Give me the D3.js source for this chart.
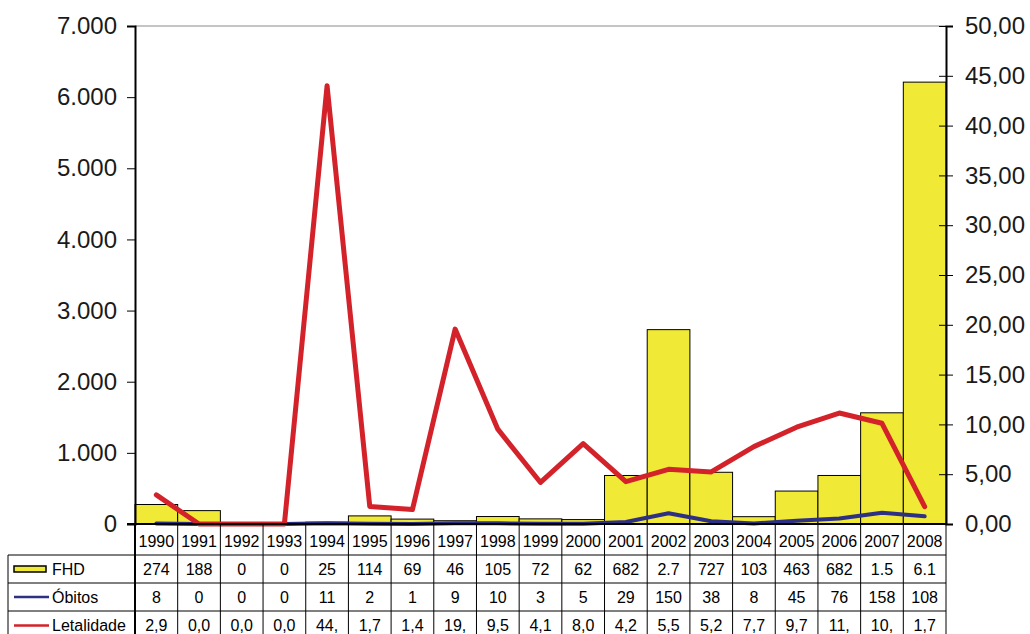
<!DOCTYPE html>
<meta charset="utf-8">
<style>
  body { margin: 0; background: #fff; }
  svg { font-family: "Liberation Sans", Arial, sans-serif; }
</style>
<svg width="1030" height="634"></svg>
<script src="https://d3js.org/d3.v7.min.js"></script>
<script>

// data
var years = ["1990","1991","1992","1993","1994","1995","1996","1997","1998","1999",
             "2000","2001","2002","2003","2004","2005","2006","2007","2008"];
var fhd = [274, 188, 0, 0, 25, 114, 69, 46, 105, 72, 62, 682, 2732, 727, 103, 463, 682, 1563, 6211];
var obitos = [8, 0, 0, 0, 11, 2, 1, 9, 10, 3, 5, 29, 150, 38, 8, 45, 76, 158, 108];
var letalidade = [2.92, 0, 0, 0, 44.0, 1.75, 1.45, 19.57, 9.52, 4.17, 8.06, 4.25, 5.49, 5.23, 7.77, 9.72, 11.14, 10.11, 1.74];

// text as printed in the table (cut off in the original)
var fhdText = ["274","188","0","0","25","114","69","46","105","72","62","682","2.7","727","103","463","682","1.5","6.1"];
var obitosText = ["8","0","0","0","11","2","1","9","10","3","5","29","150","38","8","45","76","158","108"];
var letalText = ["2,9","0,0","0,0","0,0","44,","1,7","1,4","19,","9,5","4,1","8,0","4,2","5,5","5,2","7,7","9,7","11,","10,","1,7"];

var leftTicks = [0, 1000, 2000, 3000, 4000, 5000, 6000, 7000];
var rightTicks = [0, 5, 10, 15, 20, 25, 30, 35, 40, 45, 50];

var yellow = "#f0e936", red = "#d3222a", navy = "#2e3084";

var pLeft = 135, pRight = 946, pTop = 26, pBottom = 524;

var svg = d3.select("svg");

var x = d3.scaleBand().domain(years).range([pLeft, pRight]).padding(0);
var y = d3.scaleLinear().domain([0, 7000]).range([pBottom, pTop]);
var y2 = d3.scaleLinear().domain([0, 50]).range([pBottom, pTop]);

// top border of plot area
svg.append("line")
    .attr("x1", pLeft).attr("x2", pRight)
    .attr("y1", pTop).attr("y2", pTop)
    .attr("stroke", "#8a8a8a").attr("stroke-width", 1);

// bars
svg.append("g")
  .selectAll("rect")
  .data(fhd)
  .enter().append("rect")
    .attr("x", function(d, i) { return x(years[i]); })
    .attr("y", function(d) { return y(d); })
    .attr("width", x.bandwidth())
    .attr("height", function(d) { return pBottom - y(d); })
    .attr("fill", yellow)
    .attr("stroke", "#000")
    .attr("stroke-width", 1);

// óbitos line (left axis)
var lineObitos = d3.line()
    .x(function(d, i) { return x(years[i]) + x.bandwidth() / 2; })
    .y(function(d) { return y(d); });

svg.append("path")
    .datum(obitos)
    .attr("d", lineObitos)
    .attr("fill", "none")
    .attr("stroke", navy)
    .attr("stroke-width", 4)
    .attr("stroke-linejoin", "round")
    .attr("stroke-linecap", "round");

// left axis
var yAxis = svg.append("g")
    .attr("transform", "translate(" + pLeft + ",0)")
    .call(d3.axisLeft(y).tickValues(leftTicks).tickSize(8).tickPadding(10)
      .tickFormat(function(d) { return d3.format(",")(d).replace(/,/g, "."); }));
yAxis.select(".domain").attr("stroke", "#000").attr("stroke-width", 2);
yAxis.selectAll(".tick line").attr("stroke", "#000");
yAxis.selectAll("text").attr("font-size", 24).attr("fill", "#1a1a1a")
    .attr("font-family", "Liberation Sans, Arial, sans-serif");

// right axis
var yAxis2 = svg.append("g")
    .attr("transform", "translate(" + pRight + ",0)")
    .call(d3.axisRight(y2).tickValues(rightTicks).tickSize(7).tickPadding(12)
      .tickFormat(function(d) { return d3.format(".2f")(d).replace(".", ","); }));
yAxis2.select(".domain").attr("stroke", "#000").attr("stroke-width", 2);
yAxis2.selectAll(".tick line").attr("x1", -7).attr("stroke", "#000");
yAxis2.selectAll("text").attr("font-size", 24).attr("fill", "#1a1a1a")
    .attr("font-family", "Liberation Sans, Arial, sans-serif");

// letalidade line (right axis)
var lineLetal = d3.line()
    .x(function(d, i) { return x(years[i]) + x.bandwidth() / 2; })
    .y(function(d) { return y2(d); });

svg.append("path")
    .datum(letalidade)
    .attr("d", lineLetal)
    .attr("fill", "none")
    .attr("stroke", red)
    .attr("stroke-width", 5)
    .attr("stroke-linejoin", "round")
    .attr("stroke-linecap", "round");

// category axis line
svg.append("line")
    .attr("x1", pLeft - 8).attr("x2", pRight)
    .attr("y1", pBottom).attr("y2", pBottom)
    .attr("stroke", "#000").attr("stroke-width", 2);

// data table
var rowTop = [pBottom, 555, 583, 611, 640];
var tableLeft = 8;
var table = svg.append("g").attr("font-size", 16).attr("fill", "#000");

// horizontal lines
rowTop.slice(1).forEach(function(ty) {
  table.append("line")
      .attr("x1", tableLeft).attr("x2", pRight)
      .attr("y1", ty).attr("y2", ty)
      .attr("stroke", "#000").attr("stroke-width", 1);
});
// vertical lines
table.append("line")
    .attr("x1", tableLeft).attr("x2", tableLeft)
    .attr("y1", rowTop[1]).attr("y2", 640)
    .attr("stroke", "#000");
years.forEach(function(yr) {
  table.append("line")
      .attr("x1", x(yr)).attr("x2", x(yr))
      .attr("y1", pBottom).attr("y2", 640)
      .attr("stroke", "#000").attr("stroke-width", x(yr) === pLeft ? 2 : 1);
});
table.append("line")
    .attr("x1", pRight).attr("x2", pRight)
    .attr("y1", pBottom).attr("y2", 640)
    .attr("stroke", "#000");

var rows = [years, fhdText, obitosText, letalText];
rows.forEach(function(texts, r) {
  var cy = (rowTop[r] + rowTop[r + 1]) / 2;
  table.append("g")
    .selectAll("text")
    .data(texts)
    .enter().append("text")
      .attr("x", function(d, i) { return x(years[i]) + x.bandwidth() / 2; })
      .attr("y", cy + (r === 0 ? 2 : 0))
      .attr("dy", "0.35em")
      .attr("text-anchor", "middle")
      .text(function(d) { return d; });
});

// row legends
var legendRows = [
  {name: "FHD", type: "bar"},
  {name: "Óbitos", type: "line", color: navy},
  {name: "Letalidade", type: "line", color: red}
];
legendRows.forEach(function(l, k) {
  var cy = (rowTop[k + 1] + rowTop[k + 2]) / 2;
  if (l.type === "bar") {
    table.append("rect")
        .attr("x", 14).attr("y", cy - 3)
        .attr("width", 32).attr("height", 6)
        .attr("fill", yellow).attr("stroke", "#000").attr("stroke-width", 1.5);
  } else {
    table.append("line")
        .attr("x1", 14).attr("x2", 49)
        .attr("y1", cy).attr("y2", cy)
        .attr("stroke", l.color).attr("stroke-width", 2.5);
  }
  table.append("text")
      .attr("x", 52).attr("y", cy)
      .attr("dy", "0.35em")
      .text(l.name);
});

</script>
